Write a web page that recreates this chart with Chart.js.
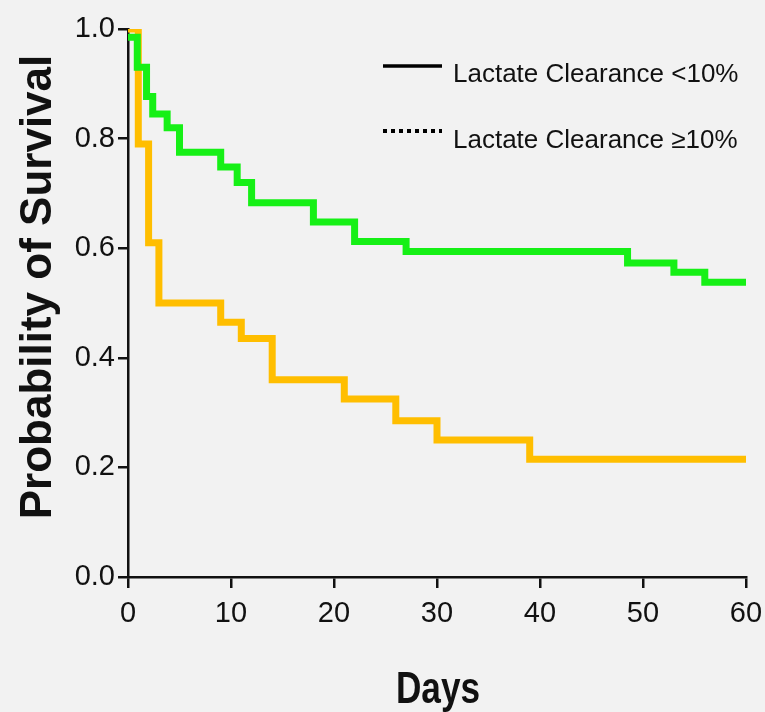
<!DOCTYPE html>
<html>
<head>
<meta charset="utf-8">
<script src="https://cdn.jsdelivr.net/npm/chart.js@4.4.0/dist/chart.umd.min.js"></script>
<style>
  html, body { margin: 0; padding: 0; background: #f2f2f2; }
</style>
</head>
<body>
<canvas id="km-chart" width="765" height="712"></canvas>
<script>
// Kaplan-Meier curves (days, survival)
const seriesNames = ['Lactate Clearance <10%', 'Lactate Clearance \u226510%'];

const daysLow = [0, 1, 2, 3, 9, 11, 14, 21, 26, 30, 39, 60];
const survLow = [1.0, 0.79, 0.61, 0.50, 0.465, 0.435, 0.36, 0.325, 0.285, 0.25, 0.215, 0.215];

const daysHigh = [0, 0.9, 1.8, 2.4, 3.8, 5, 9, 10.6, 12, 18, 22, 27, 48.5, 53, 56, 60];
const survHigh = [0.985, 0.93, 0.877, 0.845, 0.82, 0.775, 0.748, 0.72, 0.683, 0.648, 0.612, 0.594, 0.573, 0.556, 0.538, 0.538];

const xTickValues = [0, 10, 20, 30, 40, 50, 60];
const yTickValues = [0.0, 0.2, 0.4, 0.6, 0.8, 1.0];

const xTitle = 'Days';
const yTitle = 'Probability of Survival';

const baseFont = "'Liberation Sans', Arial, sans-serif";
const toPoints = (xs, ys) => xs.map((x, i) => ({ x: x, y: ys[i] }));

// light grey page background
const bgPlugin = {
  id: 'bg',
  beforeDraw(chart) {
    const ctx = chart.ctx;
    ctx.save();
    ctx.fillStyle = '#f2f2f2';
    ctx.fillRect(0, 0, chart.width, chart.height);
    ctx.restore();
  }
};

// axis titles (the original type is a condensed bold face, so squeeze "Days" a bit)
const titlesPlugin = {
  id: 'axisTitles',
  afterDraw(chart) {
    const ctx = chart.ctx;
    ctx.save();
    ctx.fillStyle = '#111';
    ctx.font = 'bold 44px ' + baseFont;
    ctx.textAlign = 'center';
    ctx.textBaseline = 'alphabetic';
    // x title
    ctx.save();
    ctx.translate(438, 703);
    ctx.scale(0.8, 1);
    ctx.fillText(xTitle, 0, 0);
    ctx.restore();
    // y title
    ctx.save();
    ctx.translate(51, 287);
    ctx.rotate(-Math.PI / 2);
    ctx.fillText(yTitle, 0, 0);
    ctx.restore();
    ctx.restore();
  }
};

// legend with line samples, top right inside the plot
const legendPlugin = {
  id: 'kmLegend',
  afterDraw(chart) {
    const ctx = chart.ctx;
    const rows = [
      { ds: chart.data.datasets[2], lineY: 66, textY: 82 },
      { ds: chart.data.datasets[3], lineY: 131, textY: 148 }
    ];
    ctx.save();
    rows.forEach(r => {
      ctx.beginPath();
      ctx.strokeStyle = r.ds.borderColor;
      ctx.lineWidth = r.ds.borderDash.length ? 4 : 3.5;
      ctx.setLineDash(r.ds.borderDash);
      ctx.moveTo(383, r.lineY);
      ctx.lineTo(442, r.lineY);
      ctx.stroke();
      ctx.setLineDash([]);
      ctx.fillStyle = '#111';
      ctx.font = '26px ' + baseFont;
      ctx.textBaseline = 'alphabetic';
      ctx.fillText(r.ds.label, 453, r.textY);
    });
    ctx.restore();
  }
};

const ctx = document.getElementById('km-chart').getContext('2d');
new Chart(ctx, {
  type: 'line',
  data: {
    datasets: [
      {
        label: seriesNames[1] + ' (overlay)',
        data: toPoints(daysHigh, survHigh),
        borderColor: 'rgb(22, 240, 22)',
        borderWidth: 7,
        stepped: true,
        pointRadius: 0,
        order: 0
      },
      {
        label: seriesNames[0] + ' (overlay)',
        data: toPoints(daysLow, survLow),
        borderColor: 'rgb(255, 190, 0)',
        borderWidth: 7,
        stepped: true,
        pointRadius: 0,
        order: 0
      },
      {
        label: seriesNames[0],
        data: toPoints(daysLow, survLow),
        borderColor: '#000',
        borderWidth: 3,
        borderDash: [],
        stepped: true,
        pointRadius: 0,
        order: 1
      },
      {
        label: seriesNames[1],
        data: toPoints(daysHigh, survHigh),
        borderColor: '#000',
        borderWidth: 4,
        borderDash: [4, 4],
        stepped: true,
        pointRadius: 0,
        order: 1
      }
    ]
  },
  options: {
    responsive: false,
    animation: false,
    devicePixelRatio: 1,
    layout: { padding: { top: 29, right: 19, left: 0, bottom: 0 } },
    plugins: {
      legend: { display: false },
      tooltip: { enabled: false }
    },
    scales: {
      x: {
        type: 'linear',
        min: 0,
        max: 60,
        afterBuildTicks: (scale) => { scale.ticks = xTickValues.map(v => ({ value: v })); },
        afterFit: (scale) => {
          scale.height = 135;
          scale.paddingLeft = 0;
          scale.paddingRight = 0;
        },
        border: { display: true, color: '#111', width: 2.5 },
        grid: { drawOnChartArea: false, drawTicks: true, tickLength: 11, color: '#111', lineWidth: 2.5 },
        ticks: {
          color: '#111',
          padding: 9,
          font: { family: baseFont, size: 29 },
          maxRotation: 0
        }
      },
      y: {
        type: 'linear',
        min: 0,
        max: 1,
        afterBuildTicks: (scale) => { scale.ticks = yTickValues.map(v => ({ value: v })); },
        afterFit: (scale) => {
          scale.width = 128;
          scale.paddingTop = 0;
          scale.paddingBottom = 0;
        },
        border: { display: true, color: '#111', width: 2.5 },
        grid: { drawOnChartArea: false, drawTicks: true, tickLength: 10, color: '#111', lineWidth: 2.5 },
        ticks: {
          color: '#111',
          padding: 3,
          font: { family: baseFont, size: 29 },
          callback: (v) => Number(v).toFixed(1)
        }
      }
    }
  },
  plugins: [bgPlugin, titlesPlugin, legendPlugin]
});
</script>
</body>
</html>
